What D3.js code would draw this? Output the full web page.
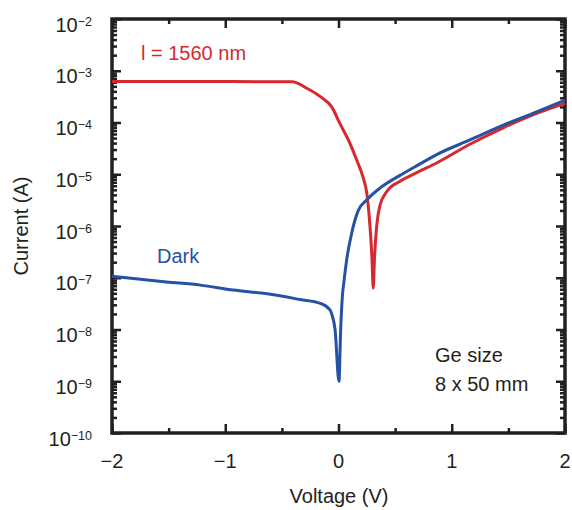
<!DOCTYPE html>
<html>
<head>
<meta charset="utf-8">
<script src="https://cdn.jsdelivr.net/npm/d3@7"></script>
<style>
  body { margin: 0; background: #fff; }
  svg text { font-family: "Liberation Sans", Arial, sans-serif; fill: #231f20; }
</style>
</head>
<body>
<div id="chart"></div>
<script>
const lightV = [-2, -1.2, -0.41, -0.28, -0.163, -0.06, 0.013, 0.10, 0.16, 0.22, 0.25, 0.278, 0.295, 0.307, 0.318, 0.337, 0.366, 0.425, 0.543, 0.7, 0.867, 1.16, 1.455, 1.75, 2.0];
const lightI = [6.2e-4, 6.2e-4, 6.1e-4, 4.6e-4, 3.2e-4, 2.0e-4, 9.5e-5, 4.0e-5, 1.9e-5, 8.3e-6, 4.3e-6, 9.8e-7, 2.5e-7, 6.3e-8, 2.5e-7, 9.8e-7, 2.5e-6, 4.6e-6, 7.3e-6, 1.1e-5, 1.65e-5, 3.8e-5, 7.9e-5, 1.5e-4, 2.35e-4];

const darkV = [-2, -1.52, -1.22, -0.93, -0.63, -0.34, -0.16, -0.075, -0.06, -0.03, 0.004, 0.019, 0.034, 0.05, 0.072, 0.116, 0.175, 0.25, 0.366, 0.543, 0.7, 0.867, 1.16, 1.455, 1.75, 2.0];
const darkI = [1.07e-7, 8.3e-8, 7.2e-8, 5.8e-8, 4.9e-8, 3.8e-8, 3.2e-8, 2.4e-8, 2.0e-8, 9.8e-9, 1.0e-9, 9.8e-9, 4.3e-8, 9.1e-8, 2.2e-7, 7.2e-7, 2.0e-6, 3.2e-6, 5.4e-6, 9.5e-6, 1.5e-5, 2.4e-5, 4.6e-5, 8.9e-5, 1.6e-4, 2.7e-4];

const xTicks = [-2, -1, 0, 1, 2];
const xMinor = [-1.5, -0.5, 0.5, 1.5];
const yExps = [-2, -3, -4, -5, -6, -7, -8, -9, -10];

const red = "#d7282f", blue = "#2552a4";

const svg = d3.select("#chart").append("svg")
    .attr("width", 572).attr("height", 510);

const x = d3.scaleLinear().domain([-2, 2]).range([112, 565]);
const y = d3.scaleLog().domain([1e-10, 1e-2]).range([433, 19]);

const yMinor = [];
for (let e = -10; e < -2; e++) for (let m = 2; m <= 9; m++) yMinor.push(m * Math.pow(10, e));

// ticks, all pointing inward
const tickStyle = g => g.call(s => s.select(".domain").remove())
    .selectAll("line").attr("stroke", "#231f20").attr("stroke-width", 2.5);

svg.append("g").attr("transform", "translate(0,433)")
    .call(d3.axisBottom(x).tickValues(xTicks).tickSize(-9).tickFormat("")).call(tickStyle);
svg.append("g").attr("transform", "translate(0,433)")
    .call(d3.axisBottom(x).tickValues(xMinor).tickSize(-5).tickFormat("")).call(tickStyle);
svg.append("g").attr("transform", "translate(0,19)")
    .call(d3.axisTop(x).tickValues(xTicks).tickSize(-9).tickFormat("")).call(tickStyle);
svg.append("g").attr("transform", "translate(0,19)")
    .call(d3.axisTop(x).tickValues(xMinor).tickSize(-5).tickFormat("")).call(tickStyle);

const yMajor = yExps.map(e => Math.pow(10, e));
svg.append("g").attr("transform", "translate(112,0)")
    .call(d3.axisLeft(y).tickValues(yMajor).tickSize(-9).tickFormat("")).call(tickStyle);
svg.append("g").attr("transform", "translate(112,0)")
    .call(d3.axisLeft(y).tickValues(yMinor).tickSize(-5).tickFormat("")).call(tickStyle);
svg.append("g").attr("transform", "translate(565,0)")
    .call(d3.axisRight(y).tickValues(yMajor).tickSize(-9).tickFormat("")).call(tickStyle);
svg.append("g").attr("transform", "translate(565,0)")
    .call(d3.axisRight(y).tickValues(yMinor).tickSize(-5).tickFormat("")).call(tickStyle);

// frame
svg.append("rect")
    .attr("x", 112).attr("y", 19).attr("width", 565 - 112).attr("height", 433 - 19)
    .attr("fill", "none").attr("stroke", "#231f20").attr("stroke-width", 3.5);

// curves
const line = d3.line().x(d => x(d[0])).y(d => y(d[1])).curve(d3.curveMonotoneX);
const darkData = darkV.map((v, i) => [v, darkI[i]]);
const lightData = lightV.map((v, i) => [v, lightI[i]]);

svg.append("path").datum(lightData).attr("d", line)
    .attr("fill", "none").attr("stroke", red).attr("stroke-width", 3);
svg.append("path").datum(darkData).attr("d", line)
    .attr("fill", "none").attr("stroke", blue).attr("stroke-width", 3);

// tick labels
svg.selectAll(".xl").data(xTicks).join("text")
    .attr("x", d => x(d)).attr("y", 468)
    .attr("text-anchor", "middle").attr("font-size", 20)
    .text(d => d < 0 ? "\u2212" + Math.abs(d) : d);

const yl = svg.selectAll(".yl").data(yExps).join("text")
    .attr("x", 92).attr("y", d => y(Math.pow(10, d)) + 12.5)
    .attr("text-anchor", "end").attr("font-size", 20);
yl.append("tspan").text("10");
yl.append("tspan").attr("dy", -6).attr("font-size", 12.5)
    .text(d => "\u2212" + Math.abs(d));

// axis titles
svg.append("text").attr("x", 339).attr("y", 503)
    .attr("text-anchor", "middle").attr("font-size", 20).text("Voltage (V)");
svg.append("text").attr("transform", "translate(28,226) rotate(-90)")
    .attr("text-anchor", "middle").attr("font-size", 20).text("Current (A)");

// annotations
svg.append("text").attr("x", 141).attr("y", 60).attr("font-size", 20)
    .style("fill", red).text("l = 1560 nm");
svg.append("text").attr("x", 157).attr("y", 263).attr("font-size", 20)
    .style("fill", blue).text("Dark");
svg.append("text").attr("x", 435).attr("y", 362).attr("font-size", 20).text("Ge size");
svg.append("text").attr("x", 435).attr("y", 391).attr("font-size", 20).text("8 x 50 mm");
</script>
</body>
</html>
